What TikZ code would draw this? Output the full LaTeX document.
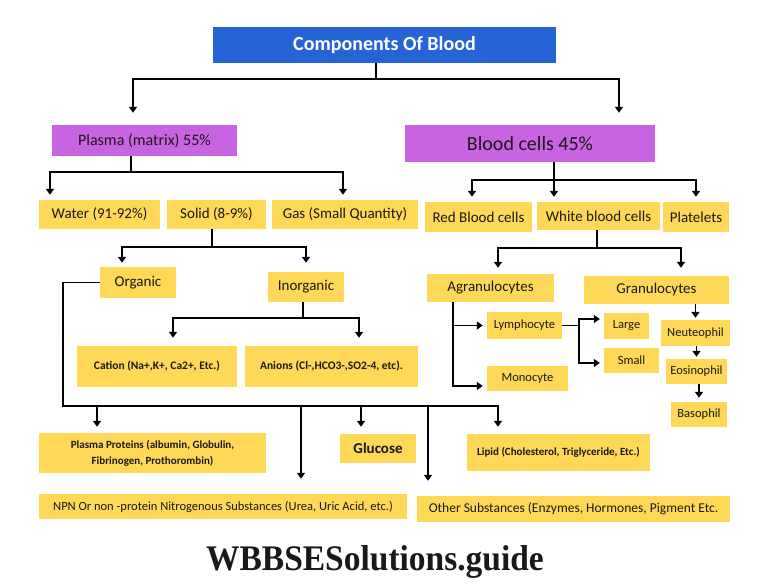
\documentclass[tikz,border=0pt]{standalone}
\usepackage{fontspec}
\setmainfont{Carlito}
\newfontfamily\wmfont{Liberation Serif}
\usetikzlibrary{arrows.meta}

\definecolor{titleblue}{RGB}{38,100,214}
\definecolor{boxpurple}{RGB}{200,100,226}
\definecolor{boxyellow}{RGB}{254,216,86}

\tikzset{
  ybox/.style={fill=boxyellow, inner sep=0pt, align=center, text=black!90},
  pbox/.style={fill=boxpurple, inner sep=0pt, align=center, text=black!90},
  bigtext/.style={font=\fontsize{15}{18}\selectfont},
  smalltext/.style={font=\fontsize{12.5}{15}\selectfont},
  boldtext/.style={font=\bfseries\fontsize{11.5}{16}\selectfont},
  link/.style={line width=1.8pt, black},
  arrowlink/.style={link, -{Triangle[width=8pt,length=6pt]}, shorten >=5pt},
}

\begin{document}
\begin{tikzpicture}[x=1pt, y=-1pt]
\useasboundingbox[fill=white] (0,0) rectangle (768,585);

% Top level
\node[fill=titleblue, inner sep=0pt, minimum width=343, minimum height=36, text=white, font=\bfseries\fontsize{20}{24}\selectfont] (title) at (384.5,45) {Components Of Blood};
\node[pbox, minimum width=185, minimum height=31, font=\fontsize{16}{19}\selectfont] (plasma) at (144.5,140.5) {Plasma (matrix) 55\%};
\node[pbox, minimum width=250, minimum height=37, font=\fontsize{20}{24}\selectfont] (bcells) at (530,143.5) {Blood cells 45\%};

% Plasma side
\node[ybox, bigtext, minimum width=121, minimum height=29] (water) at (99.5,214.5) {Water (91-92\%)};
\node[ybox, bigtext, minimum width=99, minimum height=29] (solid) at (216.5,214.5) {Solid (8-9\%)};
\node[ybox, bigtext, minimum width=146, minimum height=29] (gas) at (345,214.5) {Gas (Small Quantity)};
\node[ybox, bigtext, minimum width=76, minimum height=31] (organic) at (138,282.5) {Organic};
\node[ybox, bigtext, minimum width=76, minimum height=30] (inorganic) at (306,287) {Inorganic};
\node[ybox, boldtext, minimum width=160, minimum height=41] (cation) at (157,366.5) {Cation (Na+,K+, Ca2+, Etc.)};
\node[ybox, boldtext, minimum width=173, minimum height=41] (anions) at (331.5,366.5) {Anions (Cl-,HCO3-,SO2-4, etc).};

% Organic substances
\node[ybox, font=\bfseries\fontsize{11}{16}\selectfont, minimum width=227, minimum height=40] (proteins) at (152.5,453) {Plasma Proteins (albumin, Globulin,\\Fibrinogen, Prothorombin)};
\node[ybox, font=\bfseries\fontsize{15}{18}\selectfont, minimum width=76, minimum height=29] (glucose) at (378,448.5) {Glucose};
\node[ybox, font=\bfseries\fontsize{11}{16}\selectfont, minimum width=183, minimum height=37] (lipid) at (558.5,452.5) {Lipid (Cholesterol, Triglyceride, Etc.)};
\node[ybox, font=\fontsize{12.5}{15}\selectfont, minimum width=368, minimum height=25] (npn) at (223,506.5) {NPN Or non -protein Nitrogenous Substances (Urea, Uric Acid, etc.)};
\node[ybox, font=\fontsize{13.5}{16}\selectfont, minimum width=313, minimum height=26] (other) at (573.5,509) {Other Substances (Enzymes, Hormones, Pigment Etc.};

% Blood cells side
\node[ybox, bigtext, minimum width=107, minimum height=30] (rbc) at (478.5,217) {Red Blood cells};
\node[ybox, bigtext, minimum width=123, minimum height=28] (wbc) at (598.5,216) {White blood cells};
\node[ybox, bigtext, minimum width=66, minimum height=30] (platelets) at (696,217) {Platelets};
\node[ybox, bigtext, minimum width=127, minimum height=28] (agran) at (490.5,288) {Agranulocytes};
\node[ybox, bigtext, minimum width=145, minimum height=28] (gran) at (656.5,290) {Granulocytes};
\node[ybox, smalltext, minimum width=75, minimum height=27] (lymph) at (524.5,325.5) {Lymphocyte};
\node[ybox, smalltext, minimum width=81, minimum height=25] (mono) at (527.5,378.5) {Monocyte};
\node[ybox, smalltext, minimum width=45, minimum height=26] (large) at (626.5,326) {Large};
\node[ybox, smalltext, minimum width=55, minimum height=25] (small) at (631.5,360.5) {Small};
\node[ybox, smalltext, minimum width=69, minimum height=26] (neut) at (695.5,333) {Neuteophil};
\node[ybox, smalltext, minimum width=61, minimum height=25] (eos) at (696.5,371.5) {Eosinophil};
\node[ybox, smalltext, minimum width=56, minimum height=25] (baso) at (699,414.5) {Basophil};

% Connectors: title
\draw[link] ([xshift=-8.5pt]title.south) -- ++(0,16) coordinate (tj);
\draw[arrowlink, shorten >=12pt] (tj) -| ([xshift=-11.5pt]plasma.north);
\draw[arrowlink, shorten >=12pt] (tj) -| ([xshift=89pt]bcells.north);

% Connectors: plasma
\draw[link] ([xshift=-13.5pt]plasma.south) -- ++(0,16) coordinate (pj);
\draw[arrowlink] (pj) -| ([xshift=-49.5pt]water.north);
\draw[arrowlink] (pj) -| ([xshift=-2pt]gas.north);

\draw[link] ([xshift=-4.5pt]solid.south) -- ++(0,18) coordinate (sj);
\draw[arrowlink, shorten >=4pt] (sj) -| ([xshift=-16pt]organic.north);
\draw[arrowlink, shorten >=9pt] (sj) -| (inorganic.north);

\draw[link] ([xshift=-3pt]inorganic.south) -- ++(0,16) coordinate (ij);
\draw[arrowlink, shorten >=8pt] (ij) -| ([xshift=16pt]cation.north);
\draw[arrowlink, shorten >=8pt] (ij) -| ([xshift=27.5pt]anions.north);

% Organic bar
\coordinate (oj) at (63,406);
\coordinate (protin) at ([xshift=-55.5pt]proteins.north);
\coordinate (npnin) at ([xshift=78pt]npn.north);
\coordinate (glucin) at ([xshift=-17pt]glucose.north);
\coordinate (otherin) at ([xshift=-145.5pt]other.north);
\draw[arrowlink, shorten >=7pt] (organic.west) -| (oj) -| ([xshift=-60.5pt]lipid.north);
\draw[arrowlink, shorten >=6pt] (oj -| protin) -- (protin);
\draw[arrowlink, shorten >=15pt] (oj -| npnin) -- (npnin);
\draw[arrowlink, shorten >=7pt] (oj -| glucin) -- (glucin);
\draw[arrowlink, shorten >=15pt] (oj -| otherin) -- (otherin);

% Connectors: blood cells
\draw[link] ([xshift=24pt]bcells.south) -- ++(0,18) coordinate (bj);
\draw[arrowlink] (bj) -| ([xshift=-6.5pt]rbc.north);
\draw[arrowlink] (bj) -- (bj |- wbc.north);
\draw[arrowlink] (bj) -| (platelets.north);

\draw[link] ([xshift=-1.5pt]wbc.south) -- ++(0,18) coordinate (wj);
\draw[arrowlink, shorten >=6pt] (wj) -| ([xshift=7.5pt]agran.north);
\draw[arrowlink, shorten >=8pt] (wj) -| ([xshift=24.5pt]gran.north);

\coordinate (aj) at ([xshift=-37.5pt]agran.south);
\draw[arrowlink, shorten >=4pt] (aj) |- ([yshift=-7.5pt]mono.west);
\draw[arrowlink, shorten >=4pt] (aj |- lymph.west) -- (lymph.west);

\draw[link] (lymph.east) -- ++(17,0) coordinate (lj);
\draw[arrowlink, shorten >=4pt] (lj) |- ([yshift=7pt]large.west);
\draw[arrowlink, shorten >=4pt] (lj) |- ([yshift=-2.5pt]small.west);

\draw[arrowlink, shorten >=2pt] (neut.north |- gran.south) -- (neut.north);
\draw[arrowlink, shorten >=2pt] (eos.north |- neut.south) -- (eos.north);
\draw[arrowlink, shorten >=4pt] (baso.north |- eos.south) -- (baso.north);

% Watermark
\node[anchor=base, inner sep=0pt, xscale=0.93, font=\wmfont\bfseries\fontsize{36}{40}\selectfont, text=black!90] (site) at (375,570) {WBBSESolutions.guide};
\end{tikzpicture}
\end{document}
